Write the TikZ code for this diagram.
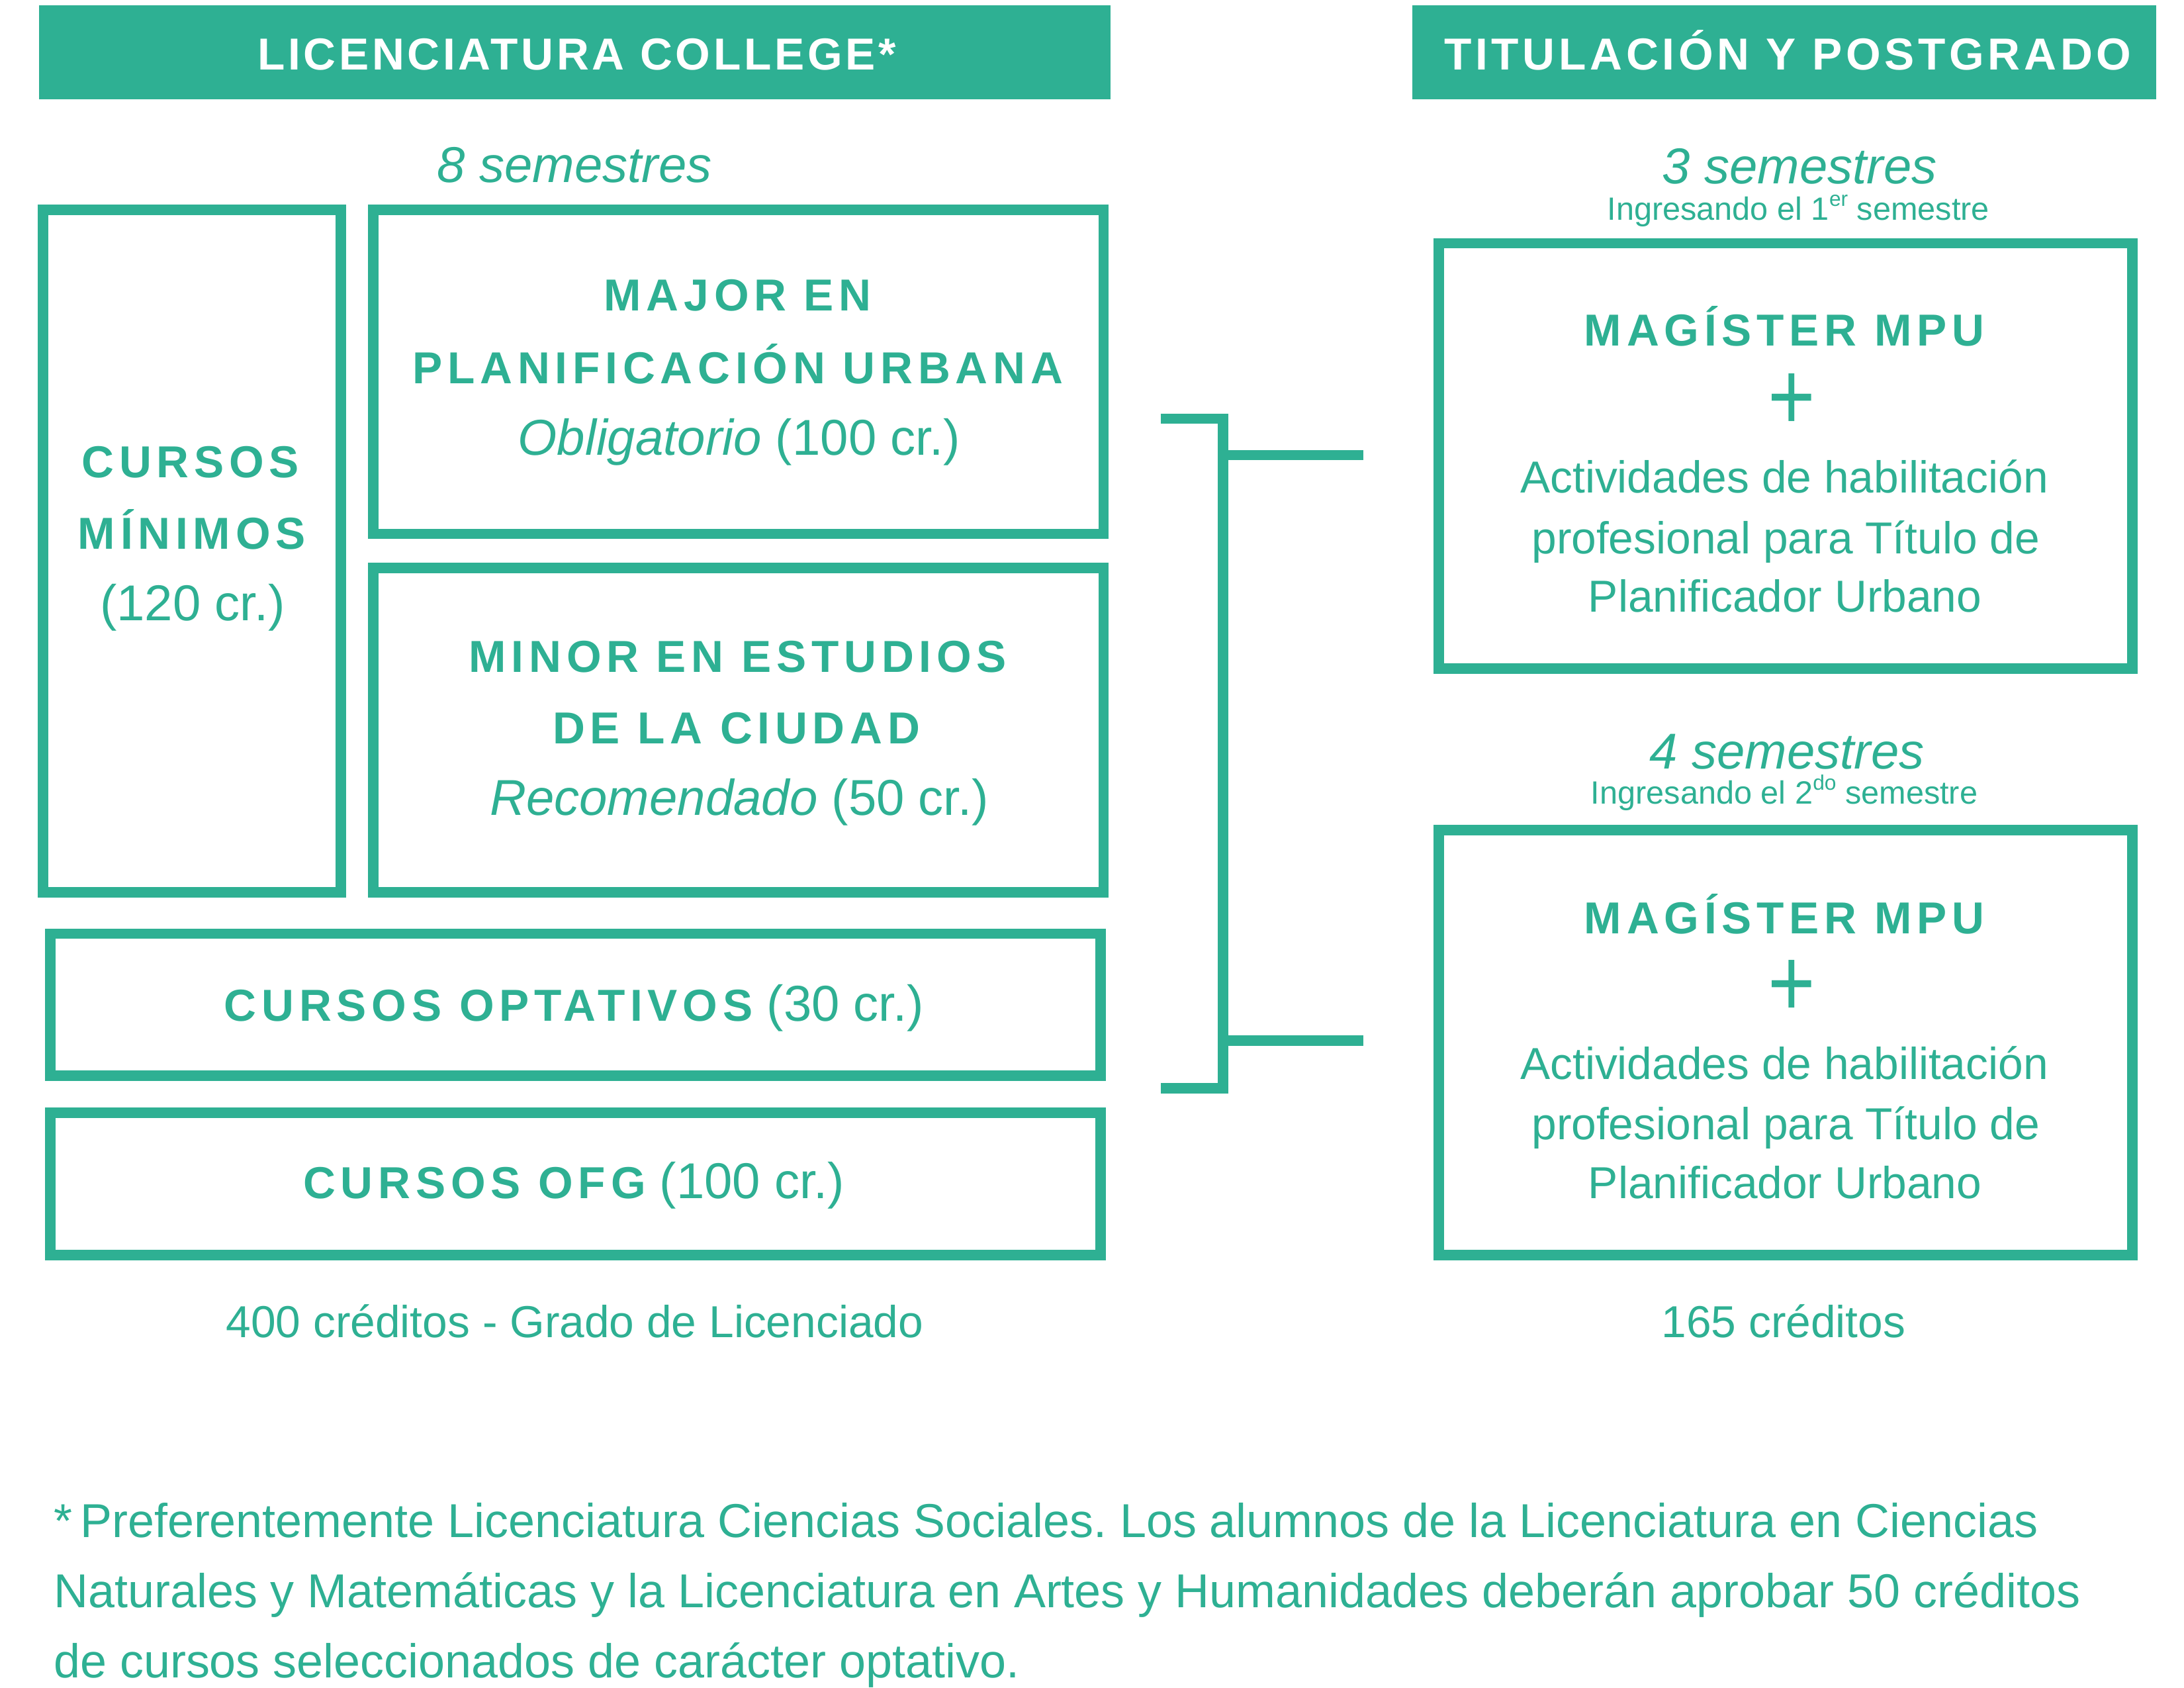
\documentclass[tikz,border=0pt]{standalone}
\usepackage{fontspec}
\setmainfont{Liberation Sans}
\newfontfamily\hdrspaced[LetterSpace=7]{Liberation Sans}
\newfontfamily\hdrspacedb[LetterSpace=8.5]{Liberation Sans}
\newfontfamily\headspaced[LetterSpace=11.5]{Liberation Sans}
\definecolor{tealc}{RGB}{46,176,147}
\newcommand\hdrfnt{\fontsize{16}{19}\selectfont\hdrspaced\bfseries}
\newcommand\hdrfntb{\fontsize{16}{19}\selectfont\hdrspacedb\bfseries}
\newcommand\bxhead{\fontsize{16}{19}\selectfont\headspaced\bfseries}
\newcommand\mylite{\fontsize{18}{21}\selectfont}
\newcommand\mybody{\fontsize{16}{19}\selectfont}
\newcommand\myfoot{\fontsize{17}{20}\selectfont}
\newcommand\myingr{\fontsize{11.5}{14}\selectfont}
\newcommand\mysup[1]{\raisebox{0.42em}{\fontsize{7.5}{8}\selectfont #1}}
\frenchspacing
\tikzset{
  box/.style={draw=tealc, line width=3.75pt, inner sep=0pt},
  hdrbox/.style={fill=tealc, inner sep=0pt},
  txt/.style={inner sep=0pt, anchor=base, text=tealc},
  link/.style={draw=tealc, line width=3.75pt},
}
\begin{document}
\begin{tikzpicture}[x=0.5pt,y=-0.5pt]
\useasboundingbox (0,0) rectangle (1560,1205);
% headers
\node[hdrbox, minimum width=382.5pt, minimum height=33.5pt] (hl) at (410.5,37.5) {};
\node[hdrbox, minimum width=265.5pt, minimum height=33.5pt] (hr) at (1274.5,37.5) {};
\node[txt, text=white] (hlt) at (412,50) {\hdrfnt LICENCIATURA COLLEGE*};
\node[txt, text=white] (hrt) at (1277,50) {\hdrfntb TITULACIÓN Y POSTGRADO};
% semesters
\node[txt] (s8) at (410.5,130) {\mylite\itshape 8 semestres};
\node[txt] (s3) at (1285.5,131) {\mylite\itshape 3 semestres};
\node[txt] (i1) at (1284.5,157) {\myingr Ingresando el 1\mysup{er} semestre};
\node[txt] (s4) at (1276.5,549) {\mylite\itshape 4 semestres};
\node[txt] (i2) at (1274.5,574) {\myingr Ingresando el 2\mysup{do} semestre};
% left boxes
\node[box, minimum width=106.25pt, minimum height=243.75pt] (minimos) at (137,393.5) {};
\node[box, minimum width=260.75pt, minimum height=115.75pt] (major) at (527.5,265.5) {};
\node[box, minimum width=260.75pt, minimum height=115.75pt] (minor) at (527.5,521.5) {};
\node[box, minimum width=375.25pt, minimum height=50.75pt] (optativos) at (411,717.5) {};
\node[box, minimum width=375.25pt, minimum height=50.75pt] (ofg) at (411,845.5) {};
% right boxes
\node[box, minimum width=247.75pt, minimum height=151.75pt] (mag1) at (1275.5,325.5) {};
\node[box, minimum width=247.75pt, minimum height=151.75pt] (mag2) at (1275.5,744.5) {};
% texts in left boxes
\node[txt] (cm1) at (136,341) {\bxhead CURSOS};
\node[txt] (cm2) at (137,392) {\bxhead MÍNIMOS};
\node[txt] (cm3) at (137.5,443) {\mylite (120 cr.)};
\node[txt] (ma1) at (527,222) {\bxhead MAJOR EN};
\node[txt] (ma2) at (527,274) {\bxhead PLANIFICACIÓN URBANA};
\node[txt] (ma3) at (528,325) {\mylite\textit{Obligatorio} (100 cr.)};
\node[txt] (mi1) at (527,480) {\bxhead MINOR EN ESTUDIOS};
\node[txt] (mi2) at (526,531) {\bxhead DE LA CIUDAD};
\node[txt] (mi3) at (528,582) {\mylite\textit{Recomendado} (50 cr.)};
\node[txt] (opt) at (410,729) {\bxhead CURSOS OPTATIVOS\mylite\fontspec{Liberation Sans}\mdseries\ (30 cr.)};
\node[txt] (ofgt) at (410,856) {\bxhead CURSOS OFG\mylite\fontspec{Liberation Sans}\mdseries\ (100 cr.)};
\node[txt] (tot1) at (410.5,955) {\mybody 400 créditos - Grado de Licenciado};
% texts in right boxes
\node[txt] (m1a) at (1274.5,247) {\bxhead MAGÍSTER MPU};
\node[inner sep=0pt, text=tealc] (m1p) at (1280,287) {\fontsize{29}{30}\selectfont\scalebox{1}[1.2]{+}};
\node[txt] (m1b) at (1274.5,352) {\mybody Actividades de habilitación};
\node[txt] (m1c) at (1275.5,395.5) {\mybody profesional para Título de};
\node[txt] (m1d) at (1275,437) {\mybody Planificador Urbano};
\node[txt] (m2a) at (1274.5,667) {\bxhead MAGÍSTER MPU};
\node[inner sep=0pt, text=tealc] (m2p) at (1280,706) {\fontsize{29}{30}\selectfont\scalebox{1}[1.2]{+}};
\node[txt] (m2b) at (1274.5,771) {\mybody Actividades de habilitación};
\node[txt] (m2c) at (1275.5,814) {\mybody profesional para Título de};
\node[txt] (m2d) at (1275,856) {\mybody Planificador Urbano};
\node[txt] (tot2) at (1274,955) {\mybody 165 créditos};
% bracket
\coordinate (bt) at (829,299);
\coordinate (bb) at (829,777);
\coordinate (jt) at (873.75,325);
\coordinate (jb) at (873.75,743);
\coordinate (et) at (974,325);
\coordinate (eb) at (974,743);
\draw[link] (bt) -- ++(44.75,0) |- (bb);
\draw[link] (jt) -- (et);
\draw[link] (jb) -- (eb);
% footnote
\node[txt, anchor=base west] (fn1) at (38,1098) {\myfoot *\,Preferentemente Licenciatura Ciencias Sociales. Los alumnos de la Licenciatura en Ciencias};
\node[txt, anchor=base west] (fn2) at (38,1148) {\myfoot Naturales y Matemáticas y la Licenciatura en Artes y Humanidades deberán aprobar 50 créditos};
\node[txt, anchor=base west] (fn3) at (38,1198) {\myfoot de cursos seleccionados de carácter optativo.};
\end{tikzpicture}
\end{document}
